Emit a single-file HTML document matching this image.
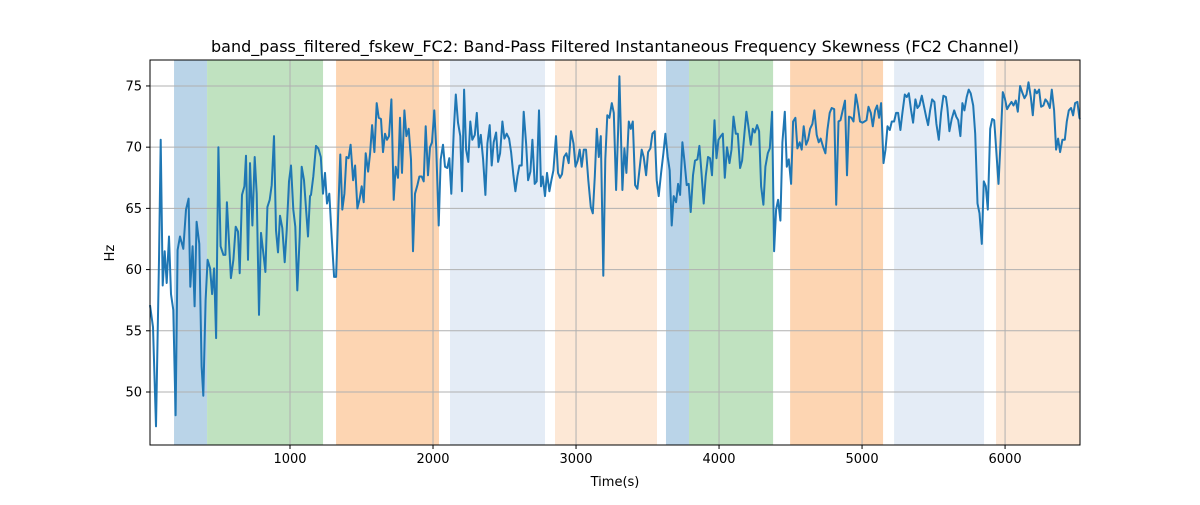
<!DOCTYPE html>
<html><head><meta charset="utf-8"><style>
body{margin:0;background:#fff;font-family:"Liberation Sans","DejaVu Sans",sans-serif;}
svg text{font-family:"DejaVu Sans","Liberation Sans",sans-serif;}
</style></head><body>
<svg id="chart" width="1200" height="500" xmlns="http://www.w3.org/2000/svg"></svg>
<script>
const times=[21,42,63,84,96,110,124,138,154,168,184,200,214,231,254,273,291,303,319,333,347,366,382,394,410,424,441,455,469,483,499,515,534,548,559,573,587,604,620,636,648,664,681,692,706,720,737,753,767,783,797,814,828,842,858,872,888,902,916,930,946,963,977,993,1007,1023,1037,1051,1068,1082,1098,1112,1126,1140,
1147,1163,1182,1198,1215,1231,1245,1259,1275,1291,1308,1322,1338,1352,1366,1380,1394,1410,1424,1441,1455,1471,1487,1501,1515,1529,1546,1560,1574,1590,1606,1620,1636,1650,1664,1678,1692,1709,1725,1739,1755,1769,1783,1800,1814,1830,1846,1860,1874,1891,1905,1921,1935,1949,1965,1979,1993,2009,2023,2040,2054,2070,2084,2100,2114,2128,2145,2159,2175,2191,2203,2217,
2231,2247,2261,2275,2292,2306,2320,2334,2350,2366,2380,2396,2410,2424,2441,2455,2469,2485,2499,2515,2532,2546,2562,2576,2590,2604,2620,2634,2651,2665,2681,2695,2711,2725,2741,2755,2767,2783,2797,2814,2828,2842,2860,2874,2888,2902,2916,2933,2949,2965,2982,2996,3012,3026,3040,3054,3070,3086,3103,3117,3131,3145,3159,3173,3191,3205,3219,3233,3250,3264,3280,3294,3303,
3324,3338,3352,3369,3383,3397,3413,3429,3443,3459,3473,3490,3504,3520,3534,3550,3564,3578,3595,3611,3625,3641,3655,3669,3683,3700,3714,3728,3744,3758,3774,3788,3802,3818,3832,3849,3863,3877,3893,3907,3923,3937,3951,3968,3982,3996,4012,4026,4040,4056,4073,4087,4101,4117,4131,4147,4161,4177,4191,4205,4222,4236,4250,4266,4280,4294,4310,4324,4341,4355,4371,4385,
4399,4413,4429,4443,4460,4474,4488,4504,4518,4534,4548,4564,4578,4592,4609,4623,4637,4653,4667,4683,4697,4711,4728,4744,4758,4774,4788,4805,4819,4835,4849,4865,4881,4895,4909,4926,4940,4956,4970,4986,5003,5017,5031,5045,5061,5075,5091,5105,5119,5133,5150,5164,5178,5194,5208,5224,5238,5252,5268,5282,5299,5313,5327,5343,5357,5373,5387,5401,5418,5432,5448,5462,5476,
5490,5506,5520,5537,5553,5569,5586,5597,5611,5627,5644,5658,5672,5688,5702,5716,5732,5746,5760,5777,5791,5807,5821,5837,5851,5865,5879,5896,5910,5924,5938,5954,5968,5984,5998,6014,6028,6045,6059,6075,6089,6105,6119,6136,6150,6164,6180,6194,6208,6222,6238,6252,6268,6282,6296,6313,6327,6343,6357,6371,6385,6401,6418,6432,6446,6462,6476,6490,6506,6520,6524];
const values=[57.1,55.3,47.2,60.8,70.6,58.7,61.5,58.9,62.7,58.0,56.7,48.1,61.6,62.7,61.7,64.9,65.8,58.6,61.9,57.0,63.9,62.1,52.1,49.7,57.5,60.8,60.1,58.0,60.1,54.4,70.0,61.9,61.2,61.2,65.5,62.4,59.3,60.8,63.5,63.1,59.7,66.1,66.8,69.3,60.8,68.7,63.6,69.2,66.2,56.3,63.0,61.3,59.8,65.1,65.7,66.9,70.9,63.2,61.4,64.4,63.4,60.6,63.2,67.2,68.5,64.9,63.5,58.3,62.7,68.4,67.3,65.0,62.7,66.0,
66.1,67.6,70.1,69.9,69.2,66.2,67.9,65.4,66.2,62.8,59.4,59.4,64.9,69.4,64.9,66.2,69.2,69.1,70.2,67.3,68.5,65.0,65.8,66.8,65.5,69.5,68.0,69.5,71.8,69.6,73.6,72.4,72.3,69.6,71.1,70.6,70.9,73.9,65.7,68.4,67.5,72.4,67.9,73.0,70.9,71.5,69.0,61.5,66.2,66.9,67.6,67.6,67.2,71.7,67.7,70.0,70.4,73.0,69.8,63.6,69.0,70.2,68.4,68.3,69.1,66.2,71.4,74.3,72.0,70.9,66.4,74.7,
69.8,68.8,72.1,70.6,71.0,72.8,70.0,71.0,69.0,66.1,70.3,71.8,68.5,70.4,71.2,68.8,69.5,72.1,70.7,71.1,70.7,69.6,67.7,66.4,67.6,68.5,68.5,72.9,70.3,67.3,68.0,70.6,67.0,67.2,73.0,66.8,67.6,66.0,67.9,66.4,67.3,68.1,70.9,67.9,67.5,67.8,69.2,69.5,68.7,71.3,70.3,68.4,68.9,69.8,68.4,69.8,69.8,67.3,65.1,64.6,67.6,71.5,69.2,70.9,59.5,69.0,72.6,72.4,73.6,72.8,66.5,71.3,75.8,
66.5,69.9,67.9,72.1,71.5,72.1,66.9,66.6,68.1,69.8,69.2,67.7,69.6,69.9,71.1,71.3,67.3,66.0,67.9,69.5,71.1,69.2,68.1,63.6,66.0,65.5,67.0,66.1,70.4,68.9,66.9,67.0,64.7,67.7,68.9,69.0,70.1,67.9,65.4,67.6,69.2,69.1,67.7,72.2,69.1,70.6,70.9,71.1,67.5,70.0,68.7,69.8,72.5,71.1,71.1,68.3,68.9,71.1,72.9,71.7,70.2,71.5,71.2,71.8,71.3,66.8,65.3,68.4,69.5,69.9,72.9,61.5,
64.9,65.7,64.0,70.4,72.9,68.4,69.0,67.0,72.1,72.4,69.9,70.4,69.8,71.7,70.2,70.6,71.5,71.9,73.0,71.0,70.4,70.7,70.0,69.5,71.4,72.8,73.2,73.1,65.3,72.1,72.2,73.0,73.8,67.7,72.5,72.4,72.1,74.3,73.4,72.1,72.0,72.1,72.2,73.3,72.8,71.7,73.0,73.4,72.4,73.6,68.7,69.8,71.7,71.4,72.1,72.1,72.8,72.8,71.4,72.8,74.3,74.1,74.4,73.0,72.0,73.9,73.2,73.4,74.2,73.4,72.5,71.8,73.0,
73.9,73.7,71.9,70.6,72.8,74.2,74.1,73.2,71.3,72.3,73.0,72.5,72.2,70.9,73.6,73.0,74.1,74.7,74.4,73.4,71.1,65.4,64.6,62.1,67.2,66.8,64.9,71.5,72.3,72.2,69.8,67.0,70.3,74.5,74.0,73.1,73.4,73.7,73.4,73.8,72.9,75.0,74.5,74.0,74.3,75.3,74.1,72.6,74.7,74.4,74.7,73.3,73.4,73.9,73.7,73.2,74.7,73.0,69.8,70.7,69.6,70.6,70.6,72.1,73.0,73.2,72.6,73.6,73.7,72.4,72.3];
const spanStart=[189,420,1322,2119,2853,3629,3790,4497,5224,5937];
const spanEnd=[420,1231,2042,2783,3566,3790,4378,5147,5853,6524];
const spanColor=['#bad4e8','#c0e2c0','#fdd5b2','#e4ecf6','#fde8d6','#bad4e8','#c0e2c0','#fdd5b2','#e4ecf6','#fde8d6'];
const xTicks=[1000,2000,3000,4000,5000,6000];
const yTicks=[50,55,60,65,70,75];

const L=150,R=1080,T=60,B=445,X0=21,X1=6524,Y0=45.67,Y1=77.12;
const sx=t=>L+(t-X0)/(X1-X0)*(R-L);
const sy=v=>B-(v-Y0)/(Y1-Y0)*(B-T);
const svg=document.getElementById('chart');
const NS='http://www.w3.org/2000/svg';
function mk(tag,attrs,parent){const e=document.createElementNS(NS,tag);for(const k in attrs)e.setAttribute(k,attrs[k]);(parent||svg).appendChild(e);return e;}

for(let i=0;i<spanStart.length;i++){
  const r=mk('rect',{x:sx(spanStart[i]),y:T,width:sx(spanEnd[i])-sx(spanStart[i]),height:B-T,fill:spanColor[i]});
  
  
}
for(const t of xTicks){
  const g=mk('line',{x1:sx(t),x2:sx(t),y1:T,y2:B,stroke:'#b0b0b0','stroke-width':1});
  
  
  mk('line',{x1:sx(t),x2:sx(t),y1:B,y2:B+4,stroke:'#000'});
  const tx=mk('text',{x:sx(t),y:B+18,'text-anchor':'middle','font-size':13,fill:'#000'});
  tx.textContent=t;
  
  
}
for(const v of yTicks){
  const g=mk('line',{x1:L,x2:R,y1:sy(v),y2:sy(v),stroke:'#b0b0b0','stroke-width':1});
  
  
  mk('line',{x1:L-4,x2:L,y1:sy(v),y2:sy(v),stroke:'#000'});
  const tx=mk('text',{x:L-8,y:sy(v)+4.5,'text-anchor':'end','font-size':13,fill:'#000'});
  tx.textContent=v;
  
  
}
const pts=times.map((t,i)=>sx(t).toFixed(1)+','+sy(values[i]).toFixed(1)).join(' ');
const line=mk('polyline',{points:pts,fill:'none',stroke:'#1f77b4','stroke-width':2,'stroke-linejoin':'round'});


const frame=mk('rect',{x:L,y:T,width:R-L,height:B-T,fill:'none',stroke:'#000','stroke-width':1});


const title=mk('text',{x:615,y:52,'text-anchor':'middle','font-size':16,fill:'#000'});
title.textContent='band_pass_filtered_fskew_FC2: Band-Pass Filtered Instantaneous Frequency Skewness (FC2 Channel)';


const xl=mk('text',{x:615,y:486,'text-anchor':'middle','font-size':13,fill:'#000'});
xl.textContent='Time(s)';


const yl=mk('text',{x:114,y:253,'text-anchor':'middle','font-size':13,fill:'#000',transform:'rotate(-90 114 253)'});
yl.textContent='Hz';


</script>
</body></html>
